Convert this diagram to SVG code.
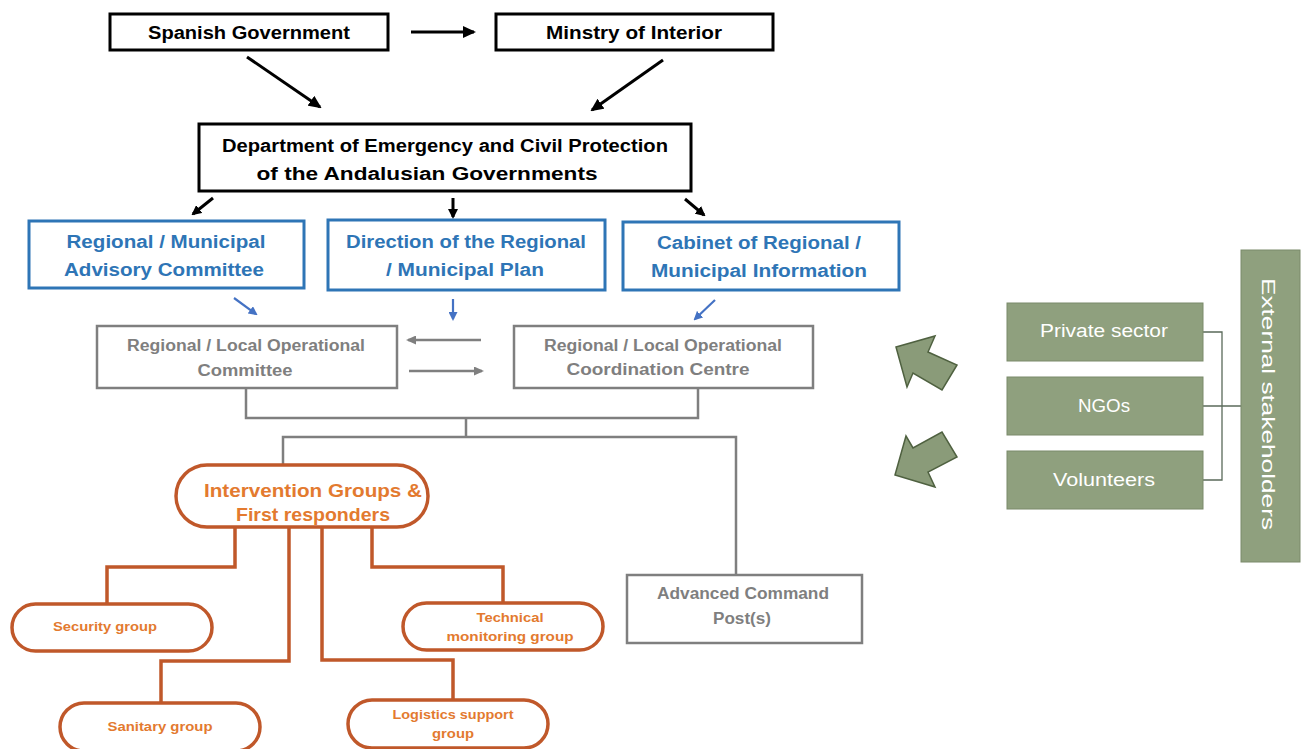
<svg xmlns="http://www.w3.org/2000/svg" width="1301" height="749" viewBox="0 0 1301 749">
<style>
text{font-family:"Liberation Sans","Open Sans",Arial,sans-serif;text-anchor:middle;font-weight:bold}
.bk{fill:#fff;stroke:#000;stroke-width:3}
.bkt{fill:#000;font-size:18px}
.bl{fill:#fff;stroke:#2e75b6;stroke-width:3}
.blt{fill:#2e75b6;font-size:18px}
.gr{fill:#fff;stroke:#7f7f7f;stroke-width:2.5}
.grt{fill:#7f7f7f;font-size:16px}
.or{fill:#fff;stroke:#c0582a;stroke-width:3.5}
.ort{fill:#e37a2f;font-size:18px}
.ors{fill:#e37a2f;font-size:13px}
.gn{fill:#8fa07e;stroke:#7a8a6a;stroke-width:1}
.gnt{fill:#fff;font-size:18px;font-weight:normal}
.ca{stroke:#000;stroke-width:3;fill:none}
.cb{stroke:#4472c4;stroke-width:2.2;fill:none}
.cg{stroke:#7f7f7f;stroke-width:2.5;fill:none}
.co{stroke:#c0582a;stroke-width:3.5;fill:none}
.cs{stroke:#5a6a5a;stroke-width:1.3;fill:none}
.ba{fill:#8a9b79;stroke:#4f6140;stroke-width:1.5}
</style>
<defs>
<marker id="ab" markerUnits="userSpaceOnUse" markerWidth="13" markerHeight="12" refX="11" refY="6" orient="auto"><path d="M0,0 L13,6 L0,12 z" fill="#000"/></marker>
<marker id="abs" markerUnits="userSpaceOnUse" markerWidth="10" markerHeight="10" refX="8" refY="5" orient="auto"><path d="M0,0 L10,5 L0,10 z" fill="#000"/></marker>
<marker id="ablue" markerUnits="userSpaceOnUse" markerWidth="9" markerHeight="9" refX="7" refY="4.5" orient="auto"><path d="M0,0 L9,4.5 L0,9 z" fill="#4472c4"/></marker>
<marker id="agray" markerUnits="userSpaceOnUse" markerWidth="10" markerHeight="9" refX="8" refY="4.5" orient="auto"><path d="M0,0 L10,4.5 L0,9 z" fill="#7f7f7f"/></marker>
</defs>

<g id="connectors">
<line class="ca" x1="411" y1="32" x2="474" y2="32" marker-end="url(#ab)"/>
<line class="ca" x1="247" y1="57" x2="320" y2="107" marker-end="url(#ab)"/>
<line class="ca" x1="663" y1="60" x2="592" y2="110" marker-end="url(#ab)"/>
<line class="ca" x1="213" y1="198" x2="193" y2="214" stroke-width="2.5" marker-end="url(#abs)"/>
<line class="ca" x1="453" y1="198" x2="453" y2="217" stroke-width="2.5" marker-end="url(#abs)"/>
<line class="ca" x1="685" y1="199" x2="704" y2="215" stroke-width="2.5" marker-end="url(#abs)"/>
<line class="cb" x1="234" y1="298" x2="256" y2="314" marker-end="url(#ablue)"/>
<line class="cb" x1="453" y1="299" x2="453" y2="319" marker-end="url(#ablue)"/>
<line class="cb" x1="715" y1="300" x2="695" y2="319" marker-end="url(#ablue)"/>
<line class="cg" x1="481" y1="340" x2="408" y2="340" marker-end="url(#agray)"/>
<line class="cg" x1="409" y1="371" x2="482" y2="371" marker-end="url(#agray)"/>
<polyline class="cg" points="246,388 246,418 698,418 698,388"/>
<line class="cg" x1="466" y1="418" x2="466" y2="437"/>
<polyline class="cg" points="283,464 283,437 736,437 736,575"/>
<polyline class="co" points="235,527 235,567 107,567 107,604"/>
<polyline class="co" points="289,527 289,661 161,661 161,703"/>
<polyline class="co" points="322,527 322,660 453,660 453,700"/>
<polyline class="co" points="372,527 372,567 503,567 503,603"/>
<polyline class="cs" points="1203,332 1222,332 1222,480 1203,480"/>
<line class="cs" x1="1203" y1="406" x2="1241" y2="406"/>
<polygon class="ba" points="896,347 935,336 928,352 957,365 942,390 913,373 907,387"/>
<polygon class="ba" points="895,475 906,436 913,448 942,432 957,457 928,472 935,487"/>
</g>

<g id="spanish-government"><rect class="bk" x="110" y="14" width="278" height="36"/><text class="bkt" x="249" y="39" textLength="202" lengthAdjust="spacingAndGlyphs">Spanish Government</text></g>
<g id="ministry-interior"><rect class="bk" x="496" y="14" width="277" height="36"/><text class="bkt" x="634" y="39" textLength="176" lengthAdjust="spacingAndGlyphs">Minstry of Interior</text></g>
<g id="department"><rect class="bk" x="199" y="124" width="492" height="67"/><text class="bkt" x="445" y="152" textLength="446" lengthAdjust="spacingAndGlyphs">Department of Emergency and Civil Protection</text><text class="bkt" x="427" y="180" textLength="341" lengthAdjust="spacingAndGlyphs">of the Andalusian Governments</text></g>

<g id="advisory-committee"><rect class="bl" x="29" y="221" width="275" height="67"/><text class="blt" x="166" y="248" textLength="199" lengthAdjust="spacingAndGlyphs">Regional / Municipal</text><text class="blt" x="164" y="276" textLength="200" lengthAdjust="spacingAndGlyphs">Advisory Committee</text></g>
<g id="direction-plan"><rect class="bl" x="328" y="220" width="277" height="70"/><text class="blt" x="466" y="248" textLength="240" lengthAdjust="spacingAndGlyphs">Direction of the Regional</text><text class="blt" x="465" y="276" textLength="158" lengthAdjust="spacingAndGlyphs">/ Municipal Plan</text></g>
<g id="cabinet-information"><rect class="bl" x="623" y="222" width="276" height="68"/><text class="blt" x="759" y="249" textLength="204" lengthAdjust="spacingAndGlyphs">Cabinet of Regional /</text><text class="blt" x="759" y="277" textLength="216" lengthAdjust="spacingAndGlyphs">Municipal Information</text></g>

<g id="operational-committee"><rect class="gr" x="97" y="326" width="300" height="62"/><text class="grt" x="246" y="351" textLength="238" lengthAdjust="spacingAndGlyphs">Regional / Local Operational</text><text class="grt" x="245" y="376" textLength="95" lengthAdjust="spacingAndGlyphs">Committee</text></g>
<g id="coordination-centre"><rect class="gr" x="514" y="326" width="299" height="62"/><text class="grt" x="663" y="351" textLength="238" lengthAdjust="spacingAndGlyphs">Regional / Local Operational</text><text class="grt" x="658" y="375" textLength="183" lengthAdjust="spacingAndGlyphs">Coordination Centre</text></g>

<g id="intervention-groups"><rect class="or" x="176" y="465" width="252" height="62" rx="31"/><text class="ort" x="313" y="497" textLength="218" lengthAdjust="spacingAndGlyphs">Intervention Groups &amp;</text><text class="ort" x="313" y="521" textLength="154" lengthAdjust="spacingAndGlyphs">First responders</text></g>
<g id="security-group"><rect class="or" x="12" y="604" width="200" height="47" rx="23.5"/><text class="ors" x="105" y="631" textLength="104" lengthAdjust="spacingAndGlyphs">Security group</text></g>
<g id="technical-monitoring"><rect class="or" x="403" y="603" width="200" height="47" rx="23.5"/><text class="ors" x="510" y="622" textLength="67" lengthAdjust="spacingAndGlyphs">Technical</text><text class="ors" x="510" y="641" textLength="127" lengthAdjust="spacingAndGlyphs">monitoring group</text></g>
<g id="sanitary-group"><rect class="or" x="60" y="703" width="200" height="48" rx="24"/><text class="ors" x="160" y="731" textLength="105" lengthAdjust="spacingAndGlyphs">Sanitary group</text></g>
<g id="logistics-support"><rect class="or" x="348" y="700" width="200" height="48" rx="24"/><text class="ors" x="453" y="719" textLength="121" lengthAdjust="spacingAndGlyphs">Logistics support</text><text class="ors" x="453" y="738" textLength="42" lengthAdjust="spacingAndGlyphs">group</text></g>

<g id="advanced-command-post"><rect class="gr" x="627" y="575" width="235" height="68"/><text class="grt" x="743" y="599" font-size="17" textLength="172" lengthAdjust="spacingAndGlyphs">Advanced Command</text><text class="grt" x="742" y="624" font-size="17" textLength="58" lengthAdjust="spacingAndGlyphs">Post(s)</text></g>

<g id="private-sector"><rect class="gn" x="1007" y="303" width="196" height="58"/><text class="gnt" x="1104" y="337" textLength="128" lengthAdjust="spacingAndGlyphs">Private sector</text></g>
<g id="ngos"><rect class="gn" x="1007" y="377" width="196" height="58"/><text class="gnt" x="1104" y="412" textLength="52" lengthAdjust="spacingAndGlyphs">NGOs</text></g>
<g id="volunteers"><rect class="gn" x="1007" y="451" width="196" height="58"/><text class="gnt" x="1104" y="486" textLength="102" lengthAdjust="spacingAndGlyphs">Volunteers</text></g>
<g id="external-stakeholders"><rect class="gn" x="1241" y="250" width="59" height="312"/><text class="gnt" font-size="22" transform="translate(1270,404) rotate(90)" y="8" textLength="252" lengthAdjust="spacingAndGlyphs">External stakeholders</text></g>
</svg>
